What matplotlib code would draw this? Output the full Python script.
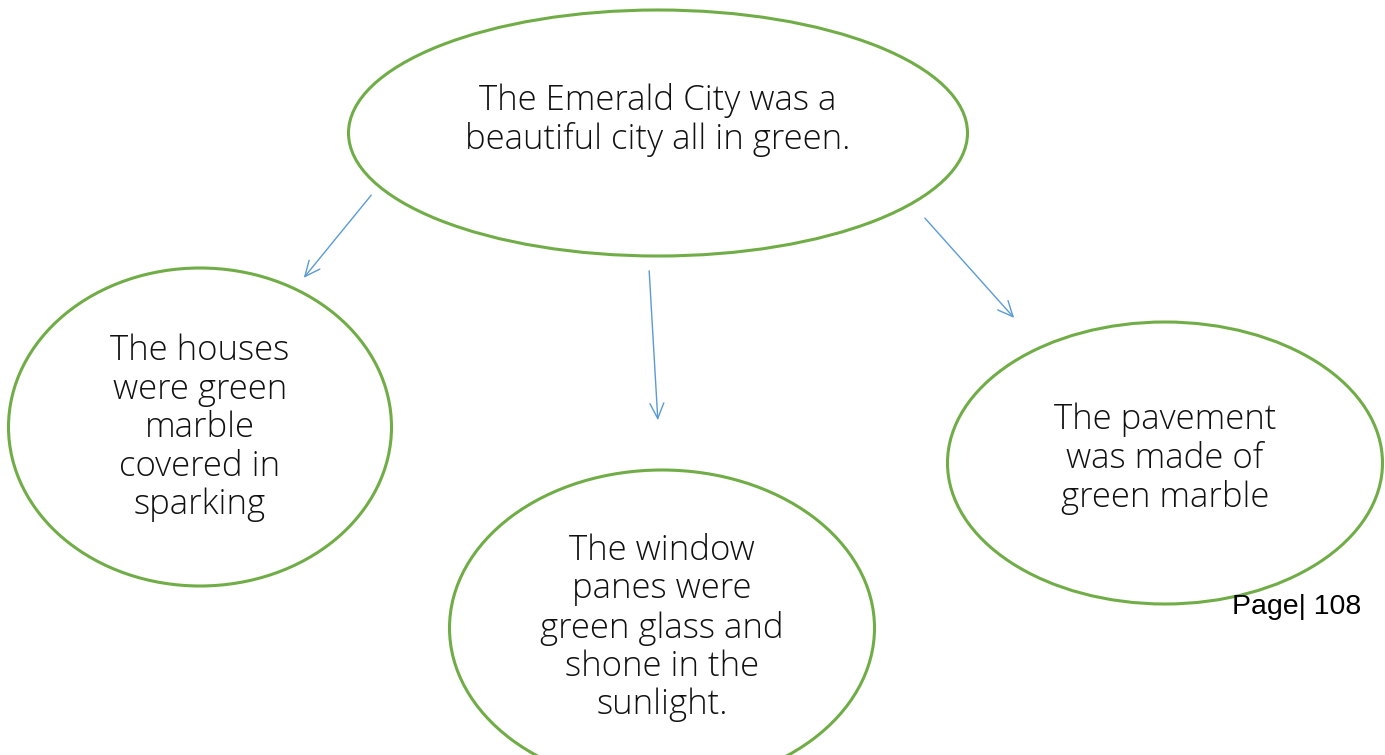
import matplotlib.pyplot as plt
from matplotlib.patches import Ellipse

# node texts
labels = [
    "The Emerald City was a\nbeautiful city all in green.",
    "The houses\nwere green\nmarble\ncovered in\nsparking",
    "The window\npanes were\ngreen glass and\nshone in the\nsunlight.",
    "The pavement\nwas made of\ngreen marble",
]
page_label = "Page| 108"

# layout in pixel coordinates (x, y from top-left)
centers = [(658, 133), (200, 427), (662, 628), (1165, 463)]
sizes = [(619, 246), (383, 318), (425, 316), (435, 282)]
text_pos = [(658, 120), (200, 428), (662, 628), (1165, 459)]
arrows = [((373, 193), (302, 280)), ((649, 268), (658, 423)), ((923, 216), (1016, 320))]

GREEN = "#70ad47"
BLUE = "#5b9bd5"

fig = plt.figure(figsize=(13.85, 7.55), dpi=100)
ax = fig.add_axes([0, 0, 1, 1])
ax.set_xlim(0, 1385)
ax.set_ylim(755, 0)
ax.axis("off")

for (cx, cy), (w, h) in zip(centers, sizes):
    ax.add_patch(Ellipse((cx, cy), w, h, fill=False, edgecolor=GREEN, linewidth=2.2))

for txt, (tx, ty) in zip(labels, text_pos):
    ax.text(tx, ty, txt, ha="center", va="center", fontsize=25,
            family="Open Sans", fontweight="light", linespacing=1.15, color="#111111")

for start, end in arrows:
    ax.annotate("", xy=end, xytext=start,
                arrowprops=dict(arrowstyle="->,head_length=1.1,head_width=0.5",
                                color=BLUE, lw=1.0))

ax.text(1297, 607, page_label, ha="center", va="center", fontsize=20.5,
        family="Liberation Sans", color="black")

fig.savefig("out.png", dpi=100)
